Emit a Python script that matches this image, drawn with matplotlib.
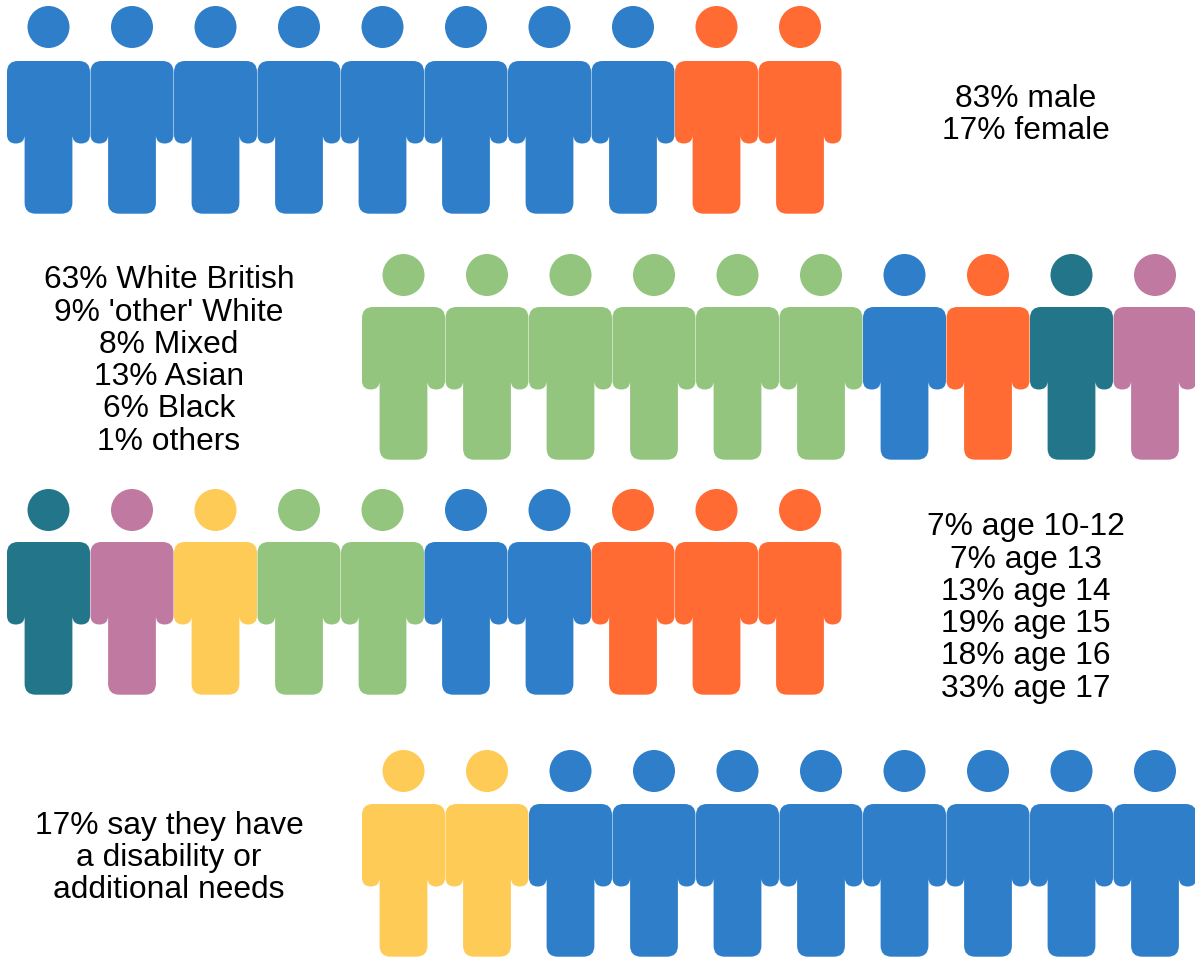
# -*- coding: utf-8 -*-
import matplotlib
matplotlib.use('Agg')
import matplotlib.pyplot as plt
from matplotlib.path import Path
from matplotlib.patches import PathPatch, Circle

blue = '#2f7ec9'
orange = '#ff6b33'
green = '#93c57e'
teal = '#237689'
mauve = '#c07aa1'
yellow = '#ffcb57'

# each row is ten people, coloured by group
row1_people = [blue] * 8 + [orange] * 2
row2_people = [green] * 6 + [blue, orange, teal, mauve]
row3_people = [teal, mauve, yellow, green, green, blue, blue, orange, orange, orange]
row4_people = [yellow] * 2 + [blue] * 8

row1_text = "83% male\n17% female"
row2_text = "63% White British\n9% 'other' White\n8% Mixed\n13% Asian\n6% Black\n1% others"
row3_text = "7% age 10-12\n7% age 13\n13% age 14\n19% age 15\n18% age 16\n33% age 17"
row4_text = "17% say they have\na disability or\nadditional needs"

PITCH = 83.5


def body_path(x0, y0):
    # person's body, in pixels from the top left corner of the shape
    w, arm, r = 83.0, 17.6, 11.0
    arm_end, notch, foot = 82.5, 74.0, 152.7
    M, L, C = Path.MOVETO, Path.LINETO, Path.CURVE3
    pts = [
        (r, 0, M), (w - r, 0, L), (w, 0, C), (w, r, C),
        (w, arm_end - arm / 2, L), (w, arm_end, C), (w - arm / 2, arm_end, C),
        (w - arm, arm_end, C), (w - arm, notch, C),
        (w - arm, foot - r, L), (w - arm, foot, C), (w - arm - r, foot, C),
        (arm + r, foot, L), (arm, foot, C), (arm, foot - r, C),
        (arm, notch, L), (arm, arm_end, C), (arm / 2, arm_end, C),
        (0, arm_end, C), (0, arm_end - arm / 2, C),
        (0, r, L), (0, 0, C), (r, 0, C),
    ]
    verts = [(x0 + p[0], y0 + p[1]) for p in pts]
    codes = [p[2] for p in pts]
    return Path(verts, codes)


def draw_row(ax, people, x0, top, head_y):
    for i, color in enumerate(people):
        x = x0 + i * PITCH
        ax.add_patch(Circle((x + 41.5, head_y), 21, color=color, lw=0))
        ax.add_patch(PathPatch(body_path(x, top), facecolor=color, edgecolor='none', lw=0))


def main():
    fig = plt.figure(figsize=(11.95, 9.57), dpi=100)
    ax = fig.add_axes([0, 0, 1, 1])
    ax.set_xlim(0, 1195)
    ax.set_ylim(957, 0)
    ax.axis('off')

    draw_row(ax, row1_people, 7, 61, 27)
    draw_row(ax, row2_people, 362, 307, 275)
    draw_row(ax, row3_people, 7, 542, 510)
    draw_row(ax, row4_people, 362, 804, 771)

    for text, x, y in [(row1_text, 1026, 115), (row2_text, 169, 361),
                       (row3_text, 1026, 608), (row4_text, 169, 858)]:
        ax.text(x, y, text, ha='center', va='center', multialignment='center',
                fontsize=22.9, family='Liberation Sans', color='black', linespacing=1.1)

    plt.savefig('out.png', dpi=100)
    plt.close()


if __name__ == '__main__':
    main()
